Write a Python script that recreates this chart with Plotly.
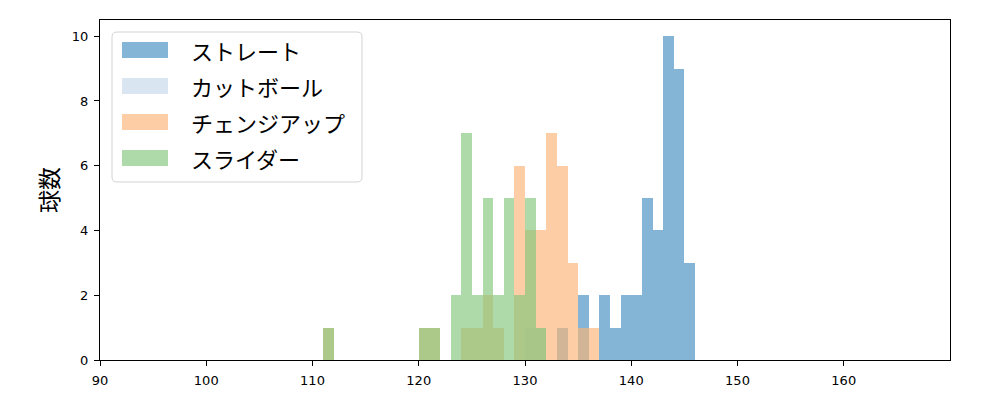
import plotly.graph_objects as go

# bin left edges (width 1 km/h) and counts per pitch type
fastball_bins = [130, 131, 133, 135, 137, 138, 139, 140, 141, 142, 143, 144, 145]
fastball_counts = [0, 0, 1, 2, 2, 1, 2, 2, 5, 4, 10, 9, 3]

cutter_bins = [130, 131]
cutter_counts = [1, 1]

change_bins = [111, 120, 121, 124, 125, 126, 127, 129, 130, 131, 132, 133, 134, 135, 136]
change_counts = [1, 1, 1, 1, 1, 2, 1, 6, 4, 4, 7, 6, 3, 1, 1]

slider_bins = [111, 120, 121, 123, 124, 125, 126, 127, 128, 129, 130, 131]
slider_counts = [1, 1, 1, 2, 7, 2, 5, 2, 5, 2, 5, 1]

names = ["ストレート", "カットボール", "チェンジアップ", "スライダー"]
colors = ["rgba(66,140,192,0.65)", "rgba(198,215,235,0.65)",
          "rgba(252,179,117,0.65)", "rgba(129,198,121,0.65)"]

x_ticks = [90, 100, 110, 120, 130, 140, 150, 160]
y_ticks = [0, 2, 4, 6, 8, 10]

# figure geometry (page has an 8px body margin)
W, H = 984, 384
ML, MR, MT, MB = 92, 42, 12, 32
PX0, PY0 = 8 + ML, 8 + MT
PW, PH = W - ML - MR, H - MT - MB


def px2paper(px, py):
    return (px - PX0) / PW, (PY0 + PH - py) / PH


fig = go.Figure()
for name, bins, counts, col in zip(names,
                                   [fastball_bins, cutter_bins, change_bins, slider_bins],
                                   [fastball_counts, cutter_counts, change_counts, slider_counts],
                                   colors):
    fig.add_trace(go.Bar(
        x=[b + 0.5 for b in bins], y=counts, width=1.0, name=name,
        marker=dict(color=col, line=dict(width=0)), showlegend=False,
    ))

# legend drawn to mimic the reference (wide patches, rounded frame)
shapes = []
annotations = []
bx0, by0 = px2paper(112, 182)
bx1, by1 = px2paper(362, 32)
rx, ry = 5 / PW, 5 / PH
path = (f"M {bx0+rx},{by0} L {bx1-rx},{by0} Q {bx1},{by0} {bx1},{by0+ry} "
        f"L {bx1},{by1-ry} Q {bx1},{by1} {bx1-rx},{by1} L {bx0+rx},{by1} "
        f"Q {bx0},{by1} {bx0},{by1-ry} L {bx0},{by0+ry} Q {bx0},{by0} {bx0+rx},{by0} Z")
shapes.append(dict(type="path", xref="paper", yref="paper", path=path,
                   line=dict(color="#d3d3d3", width=1), fillcolor="rgba(255,255,255,0.8)",
                   layer="above"))
for i, (name, col) in enumerate(zip(names, colors)):
    cy = 50 + 36 * i
    x0, y0 = px2paper(122, cy + 8)
    x1, y1 = px2paper(168, cy - 8)
    shapes.append(dict(type="rect", xref="paper", yref="paper", x0=x0, y0=y0, x1=x1, y1=y1,
                       fillcolor=col, line=dict(width=0), layer="above"))
    tx, ty = px2paper(189, cy)
    annotations.append(dict(x=tx, y=ty, xref="paper", yref="paper", text=name,
                            showarrow=False, xanchor="left", yanchor="middle",
                            font=dict(family="Noto Sans CJK JP", size=22, color="black")))

fig.update_layout(
    width=W, height=H,
    barmode="overlay", bargap=0,
    plot_bgcolor="white", paper_bgcolor="white",
    margin=dict(l=ML, r=MR, t=MT, b=MB, autoexpand=False),
    font=dict(family="DejaVu Sans", size=13, color="black"),
    shapes=shapes, annotations=annotations,
    showlegend=False,
)
fig.update_xaxes(
    range=[90, 170], tickvals=x_ticks,
    showline=True, linecolor="black", linewidth=1.2, mirror=True,
    ticks="outside", ticklen=5, tickcolor="black", showgrid=False, zeroline=False,
    ticklabelstandoff=3, automargin=False,
)
fig.update_yaxes(
    range=[0, 10.5], tickvals=y_ticks,
    showline=True, linecolor="black", linewidth=1.2, mirror=True,
    ticks="outside", ticklen=5, tickcolor="black", showgrid=False, zeroline=False,
    ticklabelstandoff=3, automargin=False,
    title=dict(text="球数", font=dict(family="Noto Sans CJK JP", size=23), standoff=6),
)
fig.write_html("out.html")
